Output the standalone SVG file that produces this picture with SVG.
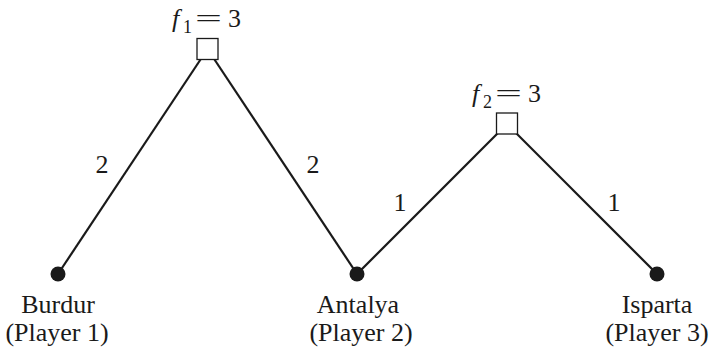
<svg xmlns="http://www.w3.org/2000/svg" width="709" height="347" viewBox="0 0 709 347">
<style>
text{font-family:"Liberation Serif","Times New Roman",serif;font-size:26px;fill:#1a1a1a}
.mid{text-anchor:middle}
.it{font-style:italic}
.sub{font-size:18px}
.edge{stroke:#1a1a1a;stroke-width:2.2;fill:none}
.sq{fill:#fff;stroke:#1a1a1a;stroke-width:1.3}
.dot{fill:#1a1a1a}
</style>
<rect width="709" height="347" fill="#fff"/>
<g id="connectors">
<line class="edge" x1="58" y1="274" x2="207.5" y2="49"/>
<line class="edge" x1="207.5" y1="49" x2="357" y2="274"/>
<line class="edge" x1="357" y1="274" x2="507" y2="124"/>
<line class="edge" x1="507" y1="124" x2="657" y2="274"/>
<text class="mid" x="102" y="173">2</text>
<text class="mid" x="313" y="173">2</text>
<text class="mid" x="400" y="211">1</text>
<text class="mid" x="614" y="211">1</text>
</g>
<g id="facility1">
<rect class="sq" x="197" y="38.5" width="21" height="21"/>
<text class="it" x="172" y="27">f</text>
<text class="sub" x="183" y="33">1</text>
<text x="195" y="27" textLength="27" lengthAdjust="spacingAndGlyphs">=</text>
<text x="228" y="27">3</text>
</g>
<g id="facility2">
<rect class="sq" x="496.5" y="113" width="21" height="21"/>
<text class="it" x="472" y="102">f</text>
<text class="sub" x="483" y="108">2</text>
<text x="495" y="102" textLength="27" lengthAdjust="spacingAndGlyphs">=</text>
<text x="528" y="102">3</text>
</g>
<g id="burdur">
<circle class="dot" cx="58" cy="274" r="7.5"/>
<text class="mid" x="58" y="313">Burdur</text>
<text class="mid" x="57" y="341">(Player 1)</text>
</g>
<g id="antalya">
<circle class="dot" cx="357" cy="274" r="7.5"/>
<text class="mid" x="358" y="313">Antalya</text>
<text class="mid" x="361" y="341">(Player 2)</text>
</g>
<g id="isparta">
<circle class="dot" cx="657" cy="274" r="7.5"/>
<text class="mid" x="657" y="313">Isparta</text>
<text class="mid" x="657" y="341">(Player 3)</text>
</g>
</svg>
